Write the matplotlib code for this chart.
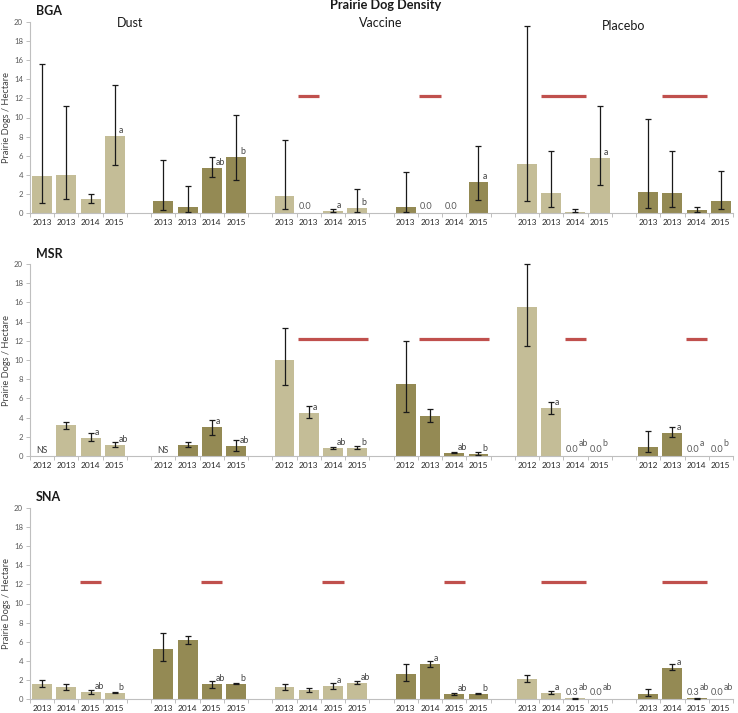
import numpy as np
import matplotlib
matplotlib.use('Agg')
import matplotlib.pyplot as plt
from matplotlib.ticker import FixedLocator

plt.rcParams['font.family'] = ['Lato', 'DejaVu Sans']

LIGHT = '#C4BD97'
DARK = '#948A54'
RED = '#C0504D'

group_shades = ['light', 'dark', 'light', 'dark', 'light', 'dark']
treatments = ['Dust', 'Vaccine', 'Placebo']
red_level = 12.2
N = np.nan

# ---------------- BGA ----------------
bga_years = [['2013', '2013', '2014', '2015']] * 6
bga_vals = [[3.9, 4.0, 1.45, 8.1], [1.3, 0.6, 4.7, 5.9], [1.8, 0.0, 0.25, 0.55],
            [0.65, 0.0, 0.0, 3.25], [5.15, 2.05, 0.15, 5.8], [2.25, 2.05, 0.35, 1.3]]
bga_lo = [[1.0, 1.45, 1.05, 5.0], [0.35, 0.15, 3.75, 3.45], [0.4, N, 0.08, 0.15],
          [0.07, N, N, 1.4], [1.25, 0.6, 0.07, 2.95], [0.5, 0.6, 0.15, 0.4]]
bga_hi = [[15.6, 11.25, 1.95, 13.4], [5.55, 2.8, 5.85, 10.25], [7.6, N, 0.42, 2.55],
          [4.3, N, N, 7.0], [19.6, 6.5, 0.4, 11.25], [9.8, 6.5, 0.62, 4.4]]
bga_letters = [['', '', '', 'a'], ['', '', 'ab', 'b'], ['', '', 'a', 'b'],
               ['', '', '', 'a'], ['', '', '', 'a'], ['', '', '', '']]
bga_vtext = [['', '', '', ''], ['', '', '', ''], ['', '0.0', '', ''],
             ['', '0.0', '0.0', ''], ['', '', '', ''], ['', '', '', '']]
bga_red = [[], [], [1], [1], [1, 2], [1, 2]]

# ---------------- MSR ----------------
msr_years = [['2012', '2013', '2014', '2015']] * 6
msr_vals = [[0.0, 3.2, 1.9, 1.18], [0.0, 1.15, 3.0, 1.0], [9.95, 4.5, 0.8, 0.8],
            [7.45, 4.15, 0.35, 0.22], [15.5, 4.97, 0.0, 0.0], [0.9, 2.43, 0.0, 0.0]]
msr_lo = [[N, 2.85, 1.57, 0.9], [N, 0.97, 2.2, 0.56], [7.4, 3.93, 0.73, 0.7],
          [4.63, 3.51, 0.28, 0.07], [11.5, 4.38, N, N], [0.38, 2.0, N, N]]
msr_hi = [[N, 3.5, 2.37, 1.5], [N, 1.43, 3.8, 1.67], [13.35, 5.18, 0.9, 1.0],
          [12.03, 4.87, 0.42, 0.42], [20.0, 5.67, N, N], [2.64, 3.0, N, N]]
msr_letters = [['', '', 'a', 'ab'], ['', '', 'a', 'ab'], ['', 'a', 'ab', 'b'],
               ['', '', 'ab', 'b'], ['', 'a', 'ab', 'b'], ['', 'a', 'a', 'b']]
msr_vtext = [['NS', '', '', ''], ['NS', '', '', ''], ['', '', '', ''],
             ['', '', '', ''], ['', '', '0.0', '0.0'], ['', '', '0.0', '0.0']]
msr_red = [[], [], [1, 2, 3], [1, 2, 3], [2], [2]]

# ---------------- SNA ----------------
sna_years = [['2013', '2014', '2015', '2015']] * 6
sna_vals = [[1.57, 1.29, 0.77, 0.63], [5.22, 6.19, 1.57, 1.57], [1.29, 0.94, 1.39, 1.67],
            [2.64, 3.69, 0.49, 0.56], [2.09, 0.66, 0.06, 0.0], [0.56, 3.27, 0.06, 0.0]]
sna_lo = [[1.25, 0.97, 0.56, 0.59], [3.97, 5.74, 1.18, 1.53], [0.97, 0.77, 1.04, 1.53],
          [1.88, 3.37, 0.38, 0.52], [1.74, 0.52, 0.03, N], [0.28, 2.99, 0.03, N]]
sna_hi = [[1.95, 1.57, 0.97, 0.73], [6.96, 6.64, 1.91, 1.63], [1.6, 1.18, 1.67, 1.88],
          [3.69, 4.03, 0.66, 0.63], [2.5, 0.87, 0.1, N], [1.04, 3.62, 0.1, N]]
sna_letters = [['', '', 'ab', 'b'], ['', '', 'ab', 'b'], ['', '', 'a', 'ab'],
               ['', 'a', 'ab', 'b'], ['', 'a', 'ab', 'ab'], ['', 'a', 'ab', 'ab']]
sna_vtext = [['', '', '', ''], ['', '', '', ''], ['', '', '', ''],
             ['', '', '', ''], ['', '', '0.3', '0.0'], ['', '', '0.3', '0.0']]
sna_red = [[2], [2], [2], [2], [1, 2], [1, 2]]

panels = [
    ('BGA', bga_years, bga_vals, bga_lo, bga_hi, bga_letters, bga_vtext, bga_red),
    ('MSR', msr_years, msr_vals, msr_lo, msr_hi, msr_letters, msr_vtext, msr_red),
    ('SNA', sna_years, sna_vals, sna_lo, sna_hi, sna_letters, sna_vtext, sna_red),
]

W, H = 738, 713
fig = plt.figure(figsize=(W / 100, H / 100), dpi=100)

# (y-pixel of value 20, y-pixel of value 0, y-pixel of panel title)
panel_px = [(22, 213, 11), (264, 456, 254), (508, 699, 497)]
ax_left_px, ax_right_px = 30, 733

AXC = '#BFBFBF'
TXT = '#404040'

for (name, years, vals, lo, hi, letters, vtext, reds), (ytop, ybot, ttl) in zip(panels, panel_px):
    ax = fig.add_axes([ax_left_px / W, 1 - ybot / H, (ax_right_px - ax_left_px) / W, (ybot - ytop) / H])
    ticks_pos, ticks_lab = [], []
    for g in range(6):
        col = LIGHT if group_shades[g] == 'light' else DARK
        for b in range(4):
            x = g * 5 + b
            v = vals[g][b]
            ticks_pos.append(x)
            ticks_lab.append(years[g][b])
            ax.bar(x, v, width=0.82, color=col, edgecolor='none', zorder=2)
            l, h = lo[g][b], hi[g][b]
            if not (np.isnan(l) or np.isnan(h)):
                ax.errorbar(x, v, yerr=[[v - l], [h - v]], fmt='none', ecolor='#1a1a1a',
                            elinewidth=0.9, capsize=2.0, capthick=0.9, zorder=3, clip_on=False)
            vt = vtext[g][b]
            let = letters[g][b]
            if vt:
                if vt == 'NS':
                    ax.text(x, 0.6, vt, ha='center', va='center', fontsize=6.2, color=TXT)
                else:
                    ax.text(x - 0.15, 0.68, vt, ha='center', va='center', fontsize=6.6, color='#595959')
                    if let:
                        ax.text(x + 0.12, 1.25, let, ha='left', va='center', fontsize=6.3, color='#595959')
            elif let:
                ax.text(x + 0.16, v + 0.1, let, ha='left', va='bottom', fontsize=6.3, color=TXT)
        if reds[g]:
            x0 = g * 5 + min(reds[g]) - 0.44
            x1 = g * 5 + max(reds[g]) + 0.44
            ax.plot([x0, x1], [red_level, red_level], color=RED, lw=2.3, solid_capstyle='butt', zorder=4)

    ax.set_xlim(-0.5, 28.5)
    ax.set_ylim(0, 20)
    ax.set_yticks(range(0, 21, 2))
    ax.set_xticks(ticks_pos)
    ax.set_xticklabels(ticks_lab)
    ax.xaxis.set_minor_locator(FixedLocator(np.arange(-0.5, 29, 1.0)))
    ax.tick_params(axis='x', which='major', length=0, pad=4, labelsize=6.0, labelcolor='#262626')
    ax.tick_params(axis='x', which='minor', length=3, color=AXC, width=0.7)
    ax.tick_params(axis='y', length=3, color=AXC, width=0.7, labelsize=5.6, labelcolor='#595959', pad=2)
    for s in ['top', 'right']:
        ax.spines[s].set_visible(False)
    for s in ['left', 'bottom']:
        ax.spines[s].set_color(AXC)
        ax.spines[s].set_linewidth(0.8)
    ax.patch.set_alpha(0)

    fig.text(36 / W, 1 - ttl / H, name, ha='left', va='center', fontsize=9, fontweight='bold', color='#1a1a1a')
    fig.text(7 / W, 1 - (ytop + ybot) / 2 / H, 'Prairie Dogs / Hectare', rotation=90,
             ha='center', va='center', fontsize=6.7, color=TXT)

fig.text(386 / W, 1 - 5 / H, 'Prairie Dog Density', ha='center', va='center',
         fontsize=9.2, fontweight='bold', color='#1a1a1a')
for t, xc, yc in zip(treatments, [130, 381, 624], [23, 23, 26]):
    fig.text(xc / W, 1 - yc / H, t, ha='center', va='center', fontsize=9, color='#1a1a1a')

fig.savefig('out.png', dpi=100, facecolor='white')
